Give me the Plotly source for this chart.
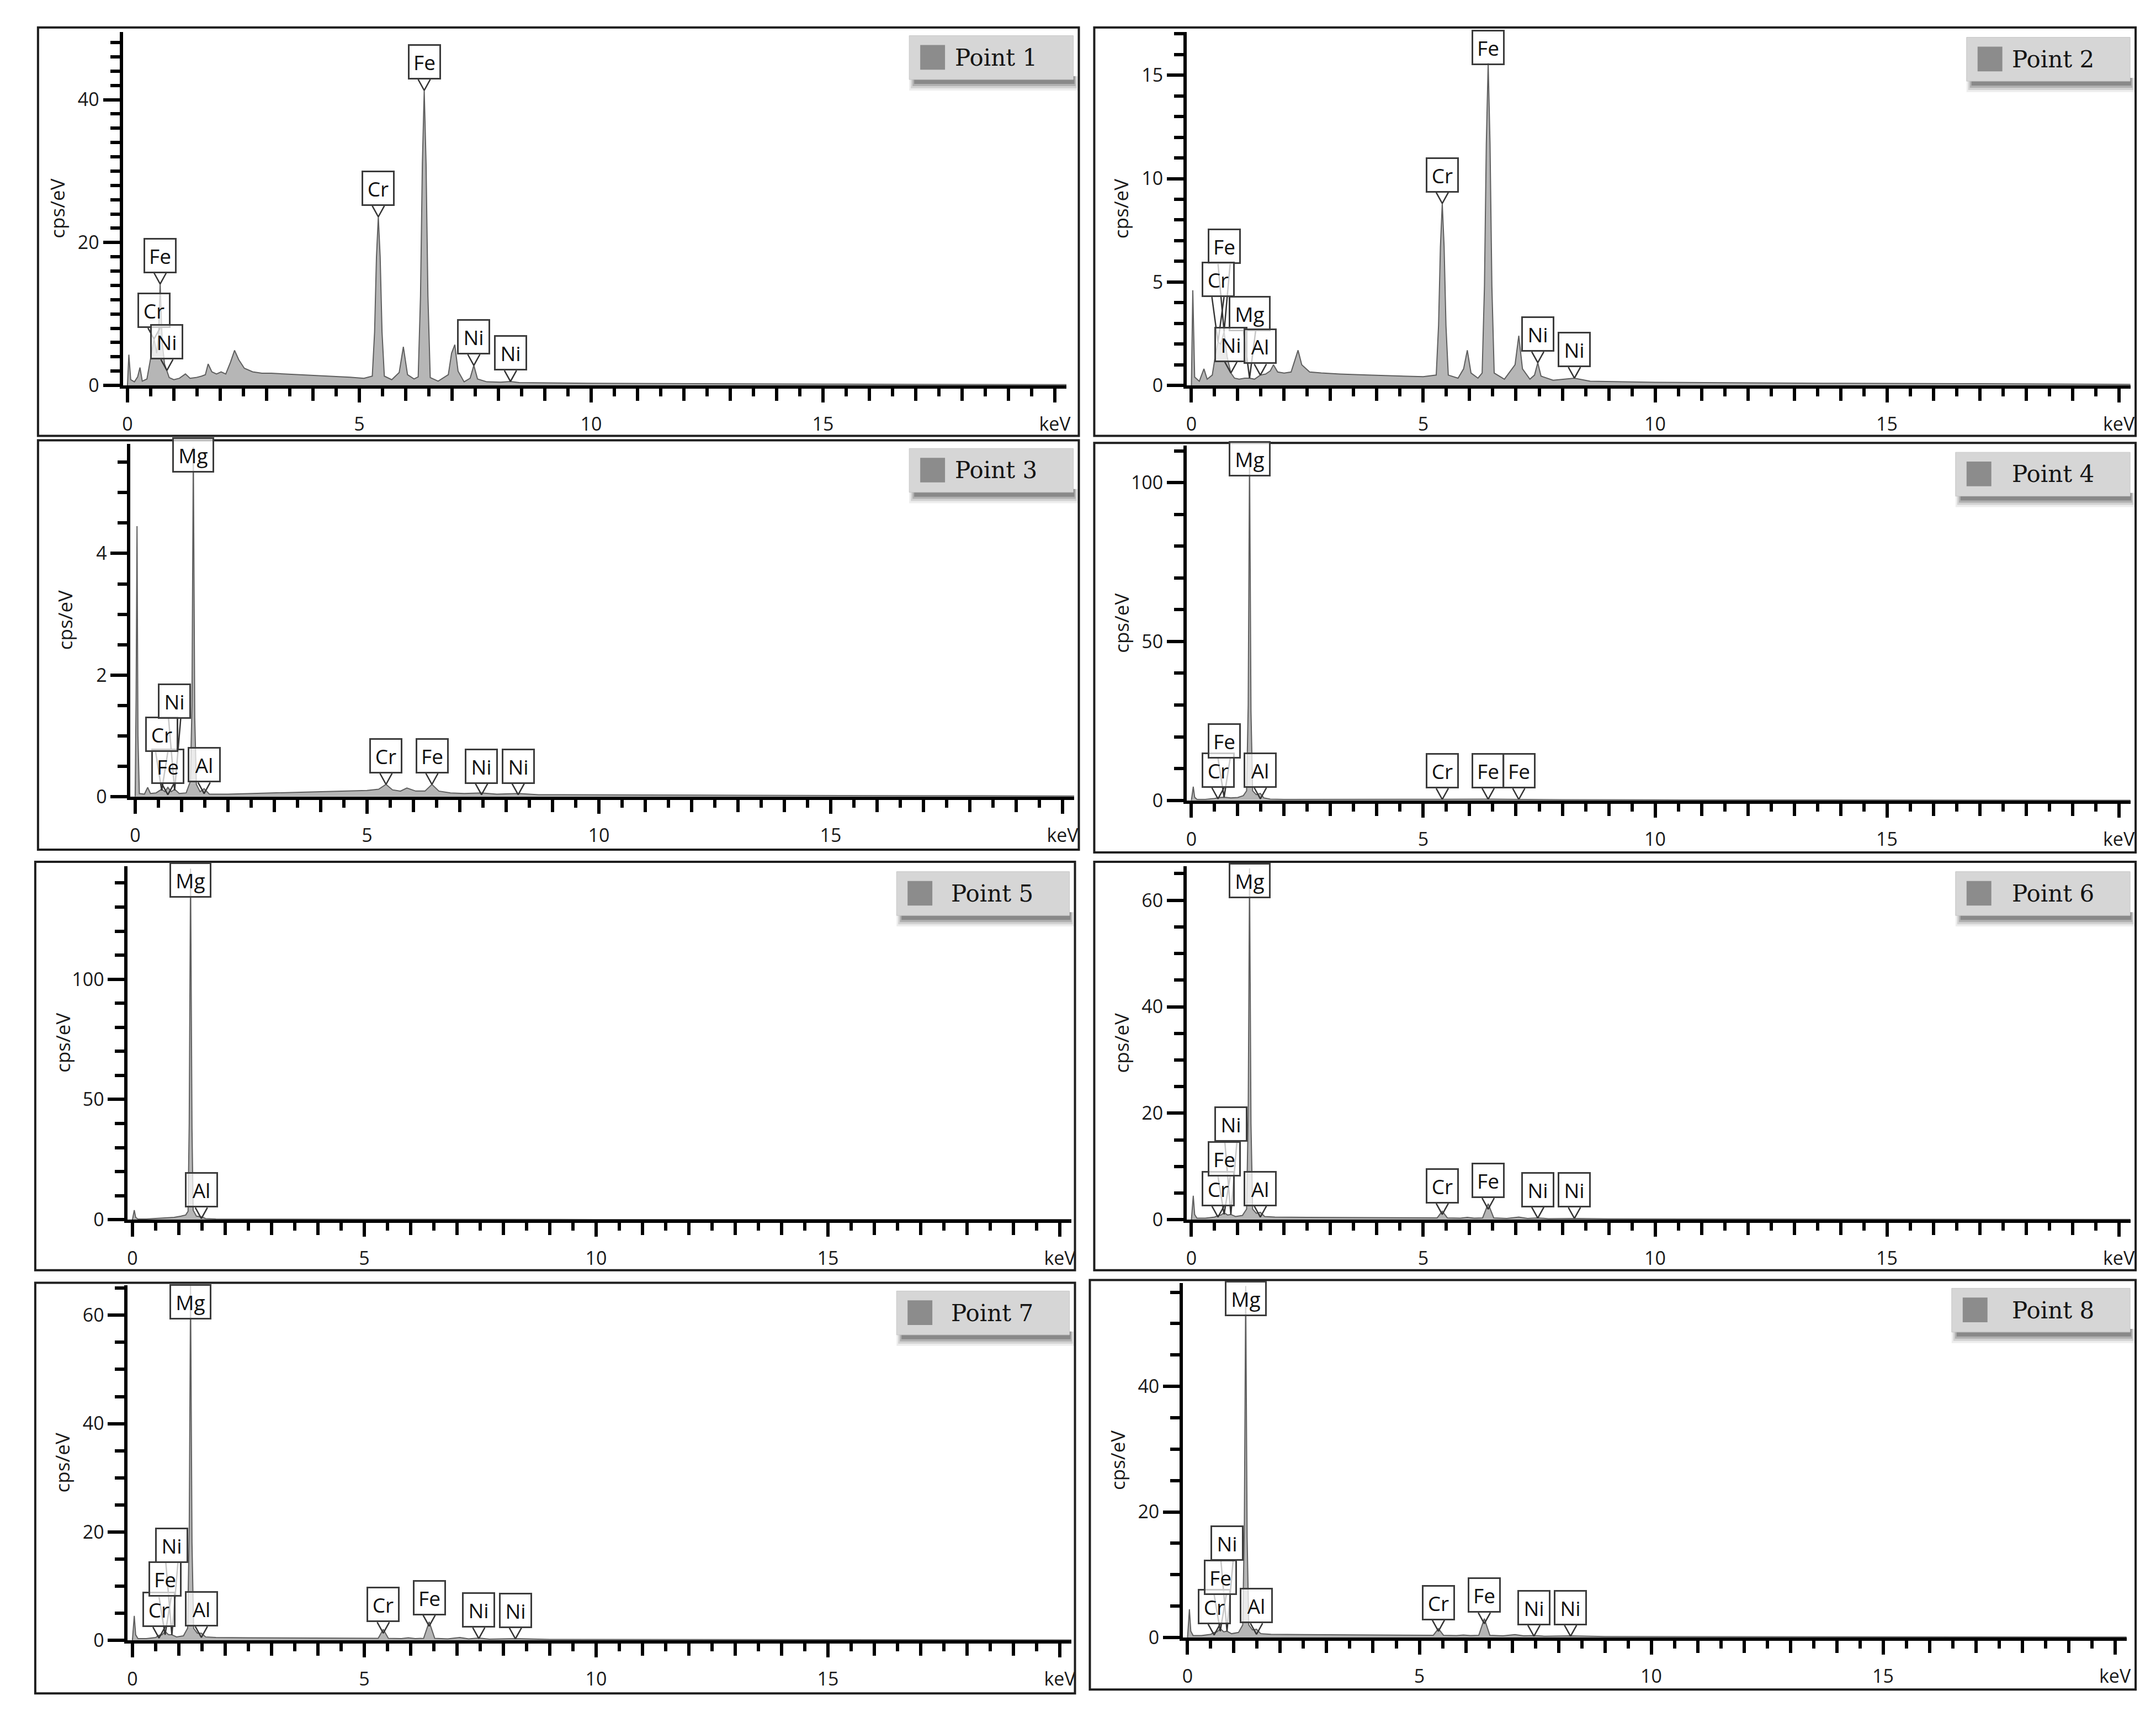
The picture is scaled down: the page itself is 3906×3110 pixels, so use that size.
import plotly.graph_objects as go

W, H = 3906, 3110

# ------------------------------------------------------------------ data
# Point 1
energy_p1 = [0.00, 0.03, 0.07, 0.15, 0.22, 0.27, 0.32, 0.42, 0.50, 0.573,
             0.63, 0.67, 0.705, 0.75, 0.80, 0.851, 0.90, 1.00, 1.12, 1.25,
             1.35, 1.48, 1.60, 1.68, 1.74, 1.82, 1.92, 2.02, 2.12, 2.22,
             2.31, 2.40, 2.52, 2.70, 2.90, 3.10, 3.40, 3.70, 4.00, 4.40,
             4.80, 5.10, 5.28, 5.33, 5.37, 5.41, 5.45, 5.49, 5.54, 5.70,
             5.86, 5.95, 6.04, 6.18, 6.27, 6.32, 6.36, 6.40, 6.44, 6.48,
             6.53, 6.70, 6.92, 6.99, 7.06, 7.13, 7.26, 7.39, 7.47, 7.55,
             7.75, 8.05, 8.26, 8.45, 9.0, 10.0, 11.5, 13.0, 15.0, 17.0,
             19.0, 20.3]
cps_p1 = [0.0, 4.3, 0.8, 0.5, 1.2, 2.5, 0.6, 0.9, 3.8, 6.5,
          4.5, 7.0, 14.2, 6.0, 3.0, 2.1, 1.1, 0.8, 1.0, 1.6,
          1.0, 1.1, 1.3, 1.5, 3.0, 1.9, 1.6, 1.9, 1.6, 3.2,
          4.9, 3.6, 2.4, 1.9, 1.7, 1.7, 1.6, 1.5, 1.4, 1.3,
          1.15, 1.0, 1.3, 7.5, 18.0, 23.6, 18.0, 7.5, 1.3, 0.8,
          1.8, 5.4, 1.5, 0.9, 1.2, 12.5, 31.0, 41.3, 31.0, 12.5,
          1.1, 0.6, 1.5, 4.5, 5.7, 2.0, 0.5, 1.0, 2.8, 0.9,
          0.5, 0.45, 0.55, 0.4, 0.35, 0.3, 0.25, 0.2, 0.18, 0.15,
          0.12, 0.1]

# Point 2
energy_p2 = [0.00, 0.03, 0.07, 0.17, 0.27, 0.34, 0.45, 0.52, 0.573, 0.63,
             0.705, 0.77, 0.851, 0.93, 1.03, 1.15, 1.254, 1.36, 1.487, 1.60,
             1.70, 1.77, 1.86, 2.00, 2.15, 2.24, 2.30, 2.38, 2.55, 2.80,
             3.20, 3.80, 4.40, 5.00, 5.28, 5.33, 5.37, 5.41, 5.45, 5.49,
             5.54, 5.75, 5.87, 5.95, 6.03, 6.18, 6.27, 6.32, 6.36, 6.40,
             6.44, 6.48, 6.53, 6.75, 6.98, 7.06, 7.14, 7.30, 7.40, 7.47,
             7.54, 7.80, 8.26, 8.60, 10.0, 12.0, 14.0, 17.0, 20.3]
cps_p2 = [0.0, 4.6, 0.4, 0.2, 0.8, 0.3, 0.5, 1.5, 2.1, 2.0,
          2.6, 1.4, 0.6, 0.35, 0.3, 0.35, 0.35, 0.3, 0.5, 0.55,
          0.7, 1.0, 0.65, 0.6, 0.65, 1.3, 1.7, 1.0, 0.65, 0.6,
          0.55, 0.5, 0.45, 0.42, 0.5, 2.9, 6.7, 8.8, 6.7, 2.9,
          0.5, 0.35, 0.8, 1.7, 0.6, 0.35, 0.6, 4.8, 11.7, 15.6,
          11.7, 4.8, 0.6, 0.3, 1.0, 2.4, 0.8, 0.3, 0.5, 1.1,
          0.45, 0.25, 0.35, 0.2, 0.15, 0.12, 0.1, 0.08, 0.05]

# Point 3
energy_p3 = [0.00, 0.02, 0.04, 0.06, 0.09, 0.20, 0.27, 0.33, 0.45, 0.573,
             0.64, 0.705, 0.78, 0.851, 0.95, 1.10, 1.19, 1.225, 1.254, 1.285,
             1.32, 1.40, 1.487, 1.60, 2.00, 2.50, 3.00, 3.50, 4.00, 4.50,
             5.00, 5.25, 5.41, 5.55, 5.72, 5.86, 6.05, 6.25, 6.40, 6.55,
             6.80, 7.10, 7.47, 7.80, 8.26, 8.70, 9.50, 11.0, 13.0, 15.0,
             17.0, 20.3]
cps_p3 = [0.0, 1.6, 4.45, 1.0, 0.05, 0.04, 0.15, 0.05, 0.06, 0.12,
          0.08, 0.15, 0.08, 0.12, 0.05, 0.06, 0.25, 1.5, 5.75, 1.3,
          0.2, 0.08, 0.13, 0.04, 0.04, 0.05, 0.06, 0.07, 0.08, 0.09,
          0.10, 0.12, 0.20, 0.11, 0.09, 0.14, 0.09, 0.09, 0.20, 0.09,
          0.06, 0.05, 0.06, 0.04, 0.05, 0.03, 0.03, 0.025, 0.02, 0.02,
          0.015, 0.01]

# Point 4
energy_p4 = [0.00, 0.02, 0.04, 0.07, 0.12, 0.30, 0.50, 0.60, 0.705, 0.85,
             1.00, 1.12, 1.19, 1.225, 1.254, 1.285, 1.32, 1.40, 1.487, 1.56,
             1.70, 2.00, 3.00, 5.00, 5.41, 6.40, 7.06, 8.00, 10.0, 14.0,
             20.3]
cps_p4 = [0.0, 2.0, 4.3, 1.0, 0.3, 0.3, 0.6, 0.9, 1.0, 0.8,
          0.9, 1.5, 3.0, 30.0, 110.0, 28.0, 3.0, 1.8, 2.2, 0.8,
          0.4, 0.3, 0.3, 0.25, 0.35, 0.4, 0.3, 0.2, 0.15, 0.1,
          0.05]

# Point 5
energy_p5 = [0.00, 0.02, 0.04, 0.07, 0.12, 0.30, 0.60, 0.90, 1.05, 1.15,
             1.20, 1.225, 1.254, 1.285, 1.31, 1.38, 1.487, 1.58, 1.80, 2.50,
             5.00, 10.0, 20.3]
cps_p5 = [0.0, 2.0, 4.0, 1.0, 0.3, 0.3, 0.6, 1.0, 1.5, 2.0,
          3.5, 40.0, 146.0, 38.0, 4.0, 1.5, 1.2, 0.5, 0.3, 0.25,
          0.2, 0.1, 0.05]

# Points 6, 7, 8 (same energy sampling)
energy_p6 = [0.00, 0.02, 0.04, 0.07, 0.12, 0.30, 0.50, 0.573, 0.64, 0.705,
             0.78, 0.851, 0.95, 1.10, 1.19, 1.225, 1.254, 1.285, 1.32, 1.40,
             1.487, 1.58, 1.80, 2.50, 3.50, 5.00, 5.30, 5.41, 5.52, 5.80,
             5.95, 6.10, 6.28, 6.40, 6.52, 6.80, 7.06, 7.25, 7.47, 7.70,
             8.26, 9.00, 12.0, 16.0, 20.3]
cps_p6 = [0.0, 2.0, 4.5, 1.0, 0.3, 0.3, 0.5, 0.8, 0.9, 1.3,
          0.9, 1.0, 0.6, 0.8, 2.0, 20.0, 66.0, 18.0, 2.0, 1.2,
          1.4, 0.6, 0.5, 0.45, 0.4, 0.3, 0.35, 1.6, 0.35, 0.3,
          0.45, 0.3, 0.35, 3.0, 0.35, 0.25, 0.5, 0.25, 0.35, 0.2,
          0.25, 0.15, 0.12, 0.1, 0.05]
energy_p7 = list(energy_p6)
cps_p7 = [0.0, 2.0, 4.5, 1.0, 0.3, 0.3, 0.5, 0.9, 1.0, 1.6,
          1.0, 1.0, 0.6, 0.8, 2.2, 20.0, 65.5, 18.0, 2.2, 1.3,
          1.3, 0.6, 0.5, 0.45, 0.4, 0.3, 0.35, 2.0, 0.35, 0.3,
          0.45, 0.3, 0.35, 3.4, 0.35, 0.25, 0.5, 0.25, 0.4, 0.2,
          0.3, 0.15, 0.12, 0.1, 0.05]
energy_p8 = list(energy_p6)
cps_p8 = [0.0, 2.0, 4.5, 1.0, 0.3, 0.3, 0.5, 0.8, 0.9, 1.4,
          0.9, 1.0, 0.6, 0.8, 2.0, 18.0, 56.0, 16.0, 2.0, 1.2,
          1.3, 0.6, 0.5, 0.45, 0.4, 0.3, 0.35, 1.4, 0.35, 0.3,
          0.4, 0.3, 0.35, 3.0, 0.35, 0.25, 0.45, 0.25, 0.3, 0.2,
          0.25, 0.15, 0.12, 0.1, 0.05]

# Peak labels: element, energy (keV), tip height (cps/eV), raised box bottom (None = default)
lab_el_p1 = ["Fe", "Cr", "Ni", "Cr", "Fe", "Ni", "Ni"]
lab_e_p1 = [0.705, 0.573, 0.851, 5.41, 6.40, 7.47, 8.26]
lab_tip_p1 = [14.2, 6.5, 2.1, 23.6, 41.3, 2.8, 0.55]
lab_box_p1 = [None, None, None, None, None, None, None]

lab_el_p2 = ["Fe", "Cr", "Mg", "Ni", "Al", "Cr", "Fe", "Ni", "Ni"]
lab_e_p2 = [0.705, 0.573, 1.254, 0.851, 1.487, 5.41, 6.40, 7.47, 8.26]
lab_tip_p2 = [2.6, 2.1, 0.35, 0.6, 0.5, 8.8, 15.5, 1.1, 0.35]
lab_box_p2 = [5.87, 4.27, 2.62, None, None, None, 15.5, None, None]

lab_el_p3 = ["Fe", "Cr", "Ni", "Al", "Mg", "Cr", "Fe", "Ni", "Ni"]
lab_e_p3 = [0.705, 0.573, 0.851, 1.487, 1.254, 5.41, 6.40, 7.47, 8.26]
lab_tip_p3 = [0.03, 0.1, 0.1, 0.05, 5.33, 0.2, 0.2, 0.03, 0.03]
lab_box_p3 = [None, 0.73, 1.28, None, 5.33, None, None, None, None]

lab_el_p4 = ["Cr", "Fe", "Al", "Mg", "Cr", "Fe", "Fe"]
lab_e_p4 = [0.573, 0.705, 1.487, 1.254, 5.41, 6.40, 7.06]
lab_tip_p4 = [0.5, 1.0, 0.5, 101.9, 0.3, 0.35, 0.3]
lab_box_p4 = [None, 13.2, None, 101.9, None, None, None]

lab_el_p5 = ["Al", "Mg"]
lab_e_p5 = [1.487, 1.254]
lab_tip_p5 = [0.5, 134.0]
lab_box_p5 = [None, 134.0]

lab_el_p6 = ["Cr", "Fe", "Ni", "Al", "Mg", "Cr", "Fe", "Ni", "Ni"]
lab_e_p6 = [0.573, 0.705, 0.851, 1.487, 1.254, 5.41, 6.40, 7.47, 8.26]
lab_tip_p6 = [0.5, 1.0, 1.0, 0.5, 60.4, 1.0, 2.0, 0.3, 0.25]
lab_box_p6 = [None, 8.1, 14.7, None, 60.4, None, None, None, None]

lab_el_p7 = ["Cr", "Fe", "Ni", "Al", "Mg", "Cr", "Fe", "Ni", "Ni"]
lab_e_p7 = [0.573, 0.705, 0.851, 1.487, 1.254, 5.41, 6.40, 7.47, 8.26]
lab_tip_p7 = [0.4, 1.0, 1.0, 0.5, 59.2, 1.3, 2.6, 0.3, 0.25]
lab_box_p7 = [None, 8.0, 14.3, None, 59.2, None, None, None, None]

lab_el_p8 = ["Cr", "Fe", "Ni", "Al", "Mg", "Cr", "Fe", "Ni", "Ni"]
lab_e_p8 = [0.573, 0.705, 0.851, 1.487, 1.254, 5.41, 6.40, 7.47, 8.26]
lab_tip_p8 = [0.4, 1.0, 1.0, 0.5, 51.2, 1.0, 2.2, 0.2, 0.2]
lab_box_p8 = [None, 6.8, 12.2, None, 51.2, None, None, None, None]

point_names = ["Point 1", "Point 2", "Point 3", "Point 4",
               "Point 5", "Point 6", "Point 7", "Point 8"]
y_max = [49.5, 17.1, 5.8, 111.6, 147.0, 66.4, 65.5, 56.5]
y_major = [20, 5, 2, 50, 50, 20, 20, 20]
y_minor = [2, 1, 0.5, 10, 10, 5, 5, 5]
x_major_vals = [0, 5, 10, 15, 20]
x_major_text = ["0", "5", "10", "15", "keV"]
y_title = "cps/eV"

spectra = [(energy_p1, cps_p1), (energy_p2, cps_p2), (energy_p3, cps_p3),
           (energy_p4, cps_p4), (energy_p5, cps_p5), (energy_p6, cps_p6),
           (energy_p7, cps_p7), (energy_p8, cps_p8)]
labels = [(lab_el_p1, lab_e_p1, lab_tip_p1, lab_box_p1),
          (lab_el_p2, lab_e_p2, lab_tip_p2, lab_box_p2),
          (lab_el_p3, lab_e_p3, lab_tip_p3, lab_box_p3),
          (lab_el_p4, lab_e_p4, lab_tip_p4, lab_box_p4),
          (lab_el_p5, lab_e_p5, lab_tip_p5, lab_box_p5),
          (lab_el_p6, lab_e_p6, lab_tip_p6, lab_box_p6),
          (lab_el_p7, lab_e_p7, lab_tip_p7, lab_box_p7),
          (lab_el_p8, lab_e_p8, lab_tip_p8, lab_box_p8)]

# ------------------------------------------------------------------ layout geometry (pixels)
FRAMES = [(60, 42, 1950, 787), (1978, 42, 3869, 787),
          (60, 795, 1950, 1542), (1978, 800, 3869, 1547),
          (55, 1564, 1943, 2309), (1978, 1564, 3869, 2309),
          (55, 2332, 1943, 3081), (1970, 2327, 3869, 3074)]
AX_LEFT = [214, 2146, 228, 2146, 223, 2146, 223, 2139]
AX_BOTTOM = [695, 695, 1445, 1452, 2217, 2217, 2984, 2979]
AX_TOP = [50, 50, 802, 805, 1572, 1572, 2337, 2332]
LEGEND = [(1642, 57, 1940), (3562, 60, 3859), (1642, 810, 1940), (3542, 817, 3859),
          (1619, 1582, 1933), (3542, 1582, 3859), (1619, 2347, 1933), (3535, 2342, 3859)]
X_RANGE = [-0.1, 20.25]
KEV_PX = 84.2
TAIL_PX = 20
TAIL_DX_PX = 11
FONT = "Open Sans"
INK = "#1a1a1a"


def pxx(x):
    return x / W


def pxy(y):
    return 1 - y / H


fig = go.Figure()
shapes, annotations = [], []
layout_axes = {}

for i in range(8):
    n = "" if i == 0 else str(i + 1)
    xa, ya = "x" + n, "y" + n
    left = AX_LEFT[i]
    right = left + (X_RANGE[1] - X_RANGE[0]) * KEV_PX
    bottom, top = AX_BOTTOM[i], AX_TOP[i]
    ppu = (bottom - top) / y_max[i]

    e, c = spectra[i]
    fig.add_trace(go.Scatter(x=e, y=c, xaxis=xa, yaxis=ya, mode="lines",
                             fill="tozeroy", fillcolor="#b6b6b6",
                             line=dict(color="#5e5e5e", width=2),
                             showlegend=False, hoverinfo="skip"))

    els, ens, tips, boxes = labels[i]
    tx, ty = [], []
    for el, en, tip, bx in zip(els, ens, tips, boxes):
        b = bx if bx is not None else tip + TAIL_PX / ppu
        if b > tip:
            dx = TAIL_DX_PX / KEV_PX
            tx += [en - dx, en, en + dx, None]
            ty += [b, tip, b, None]
        annotations.append(dict(
            x=en, y=b, xref=xa, yref=ya, text=el, showarrow=False,
            xanchor="center", yanchor="bottom",
            font=dict(size=37, color="#111111", family=FONT),
            bgcolor="rgba(255,255,255,0.72)", bordercolor="#3c3c3c",
            borderwidth=3, borderpad=0,
            width=70 if el == "Mg" else 54, height=58))
    fig.add_trace(go.Scatter(x=tx, y=ty, xaxis=xa, yaxis=ya, mode="lines",
                             line=dict(color="#333333", width=2.5),
                             showlegend=False, hoverinfo="skip"))

    ov = "x" + str(9 + i)
    fig.add_trace(go.Scatter(x=[0], y=[0], xaxis=ov, yaxis=ya, mode="markers",
                             marker=dict(opacity=0, size=1),
                             showlegend=False, hoverinfo="skip"))

    xdom = [pxx(left), pxx(right)]
    ydom = [pxy(bottom), pxy(top)]
    layout_axes["xaxis" + n] = dict(
        domain=xdom, range=X_RANGE, anchor=ya,
        showline=True, linewidth=6, linecolor="black",
        ticks="outside", tickmode="linear", tick0=0, dtick=1,
        ticklen=22, tickwidth=6, tickcolor="black",
        showticklabels=False, showgrid=False, zeroline=False,
        minor=dict(ticks="outside", tickmode="linear", tick0=0, dtick=0.5,
                   ticklen=14, tickwidth=6, tickcolor="black", showgrid=False))
    layout_axes["xaxis" + str(9 + i)] = dict(
        overlaying=xa, anchor=ya, side="bottom", range=X_RANGE,
        tickmode="array", tickvals=x_major_vals, ticktext=x_major_text,
        ticks="outside", ticklen=30, tickwidth=6, tickcolor="black",
        tickfont=dict(size=34, color=INK, family=FONT),
        ticklabelstandoff=10,
        showline=False, showgrid=False, zeroline=False)
    layout_axes["yaxis" + n] = dict(
        domain=ydom, range=[0, y_max[i]], anchor=xa,
        showline=True, linewidth=6, linecolor="black",
        ticks="outside", tickmode="linear", tick0=0, dtick=y_major[i],
        ticklen=30, tickwidth=6, tickcolor="black",
        tickfont=dict(size=34, color=INK, family=FONT),
        showgrid=False, zeroline=False,
        minor=dict(ticks="outside", tickmode="linear", tick0=0, dtick=y_minor[i],
                   ticklen=17, tickwidth=6, tickcolor="black", showgrid=False))

    # y-axis title
    annotations.append(dict(x=pxx(left - 119), y=pxy((top + bottom) / 2),
                            xref="paper", yref="paper", text=y_title,
                            textangle=-90, showarrow=False,
                            xanchor="center", yanchor="middle",
                            font=dict(size=35, color=INK, family=FONT)))

    # panel frame
    fl, ft, fr, fb = FRAMES[i]
    shapes.append(dict(type="rect", xref="paper", yref="paper",
                       x0=pxx(fl), x1=pxx(fr), y0=pxy(fb), y1=pxy(ft),
                       line=dict(color="#1e1e1e", width=4), fillcolor="rgba(0,0,0,0)"))

    # legend box with soft drop shadow
    ll, lt, lr = LEGEND[i]
    lb = lt + 80
    for (ox0, ox1, dy0, dy1, alpha) in [(0, 8, -6, 20, 0.08), (3, 6, -6, 16, 0.12),
                                        (6, 4, -6, 12, 0.18), (9, 2, -6, 8, 0.25)]:
        shapes.append(dict(type="rect", xref="paper", yref="paper",
                           x0=pxx(ll + ox0), x1=pxx(lr + ox1),
                           y0=pxy(lb + dy1), y1=pxy(lb + dy0),
                           line=dict(width=0), fillcolor="rgba(20,20,20,%.2f)" % alpha))
    shapes.append(dict(type="rect", xref="paper", yref="paper",
                       x0=pxx(ll), x1=pxx(lr), y0=pxy(lb), y1=pxy(lt),
                       line=dict(color="#c6c6c6", width=1), fillcolor="#d6d6d6"))
    shapes.append(dict(type="rect", xref="paper", yref="paper",
                       x0=pxx(ll + 20), x1=pxx(ll + 65), y0=pxy(lt + 62), y1=pxy(lt + 17),
                       line=dict(width=0), fillcolor="#8c8c8c"))
    annotations.append(dict(x=pxx(lr - 140), y=pxy(lt + 40), xref="paper", yref="paper",
                            text=point_names[i], showarrow=False,
                            xanchor="center", yanchor="middle",
                            font=dict(size=42, color="#151515", family="DejaVu Serif")))

fig.update_layout(
    width=W, height=H, margin=dict(l=0, r=0, t=0, b=0),
    paper_bgcolor="white", plot_bgcolor="white",
    font=dict(family=FONT, color=INK),
    showlegend=False, shapes=shapes, annotations=annotations,
    **layout_axes)

fig.write_html("out.html")
